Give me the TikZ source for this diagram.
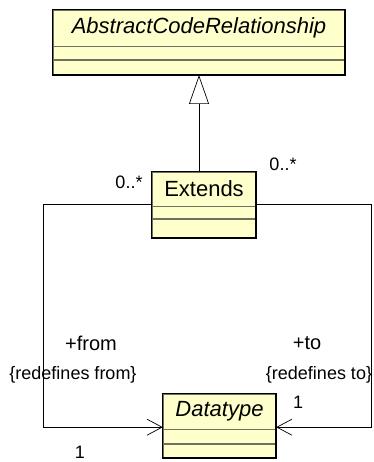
\documentclass[tikz,border=0pt]{standalone}
\usepackage{fontspec}
\setmainfont{Liberation Sans}
\usetikzlibrary{arrows.meta, positioning}
\definecolor{classfill}{RGB}{255,255,204}
\definecolor{partline}{RGB}{112,112,96}

\begin{document}
\begin{tikzpicture}[x=1pt, y=-1pt, font=\fontsize{18}{21}\selectfont,
  clsname/.style={draw=partline, fill=classfill, inner sep=0pt, font=\fontsize{22}{26}\selectfont},
  clspart/.style={draw=partline, fill=classfill, inner sep=0pt},
  clsframe/.style={draw=black, line width=0.9pt},
  clsedge/.style={draw=black, line width=1.6pt},
  assoc/.style={-{Straight Barb[length=15pt, width=16pt]}, line width=0.7pt},
  gen/.style={-{Triangle[open, length=29pt, width=20pt, fill=white]}, line width=0.7pt},
  lbl/.style={inner sep=0pt},
  role/.style={inner sep=0pt, font=\fontsize{20}{24}\selectfont}]
\useasboundingbox (0,0) rectangle (373,462);
% classes
\node[clsname, minimum width=292pt, minimum height=36pt] (acr) at (199,28) {\textit{AbstractCodeRelationship}};
\node[clspart, minimum width=292pt, minimum height=13pt, below=0pt of acr] (acrA) {};
\node[clspart, minimum width=292pt, minimum height=15pt, below=0pt of acrA] (acrB) {};
\draw[clsframe] (acr.north west) rectangle (acrB.south east);
\draw[clsedge] (acr.north east) |- (acrB.south west);

\node[clsname, minimum width=104pt, minimum height=34pt] (ext) at (204,189) {Extends};
\node[clspart, minimum width=104pt, minimum height=12pt, below=0pt of ext] (extA) {};
\node[clspart, minimum width=104pt, minimum height=19pt, below=0pt of extA] (extB) {};
\draw[clsframe] (ext.north west) rectangle (extB.south east);
\draw[clsedge] (ext.north east) |- (extB.south west);

\node[clsname, minimum width=113pt, minimum height=35pt] (dt) at (219.5,411.5) {\textit{Datatype}};
\node[clspart, minimum width=113pt, minimum height=14pt, below=0pt of dt] (dtA) {};
\node[clspart, minimum width=113pt, minimum height=14pt, below=0pt of dtA] (dtB) {};
\draw[clsframe] (dt.north west) rectangle (dtB.south east);
\draw[clsedge] (dt.north east) |- (dtB.south west);

% connectors
\draw[gen] (ext.north -| acrB.south) -- (acrB.south);
\draw[assoc] ([yshift=2pt]ext.south west) -- ++(-108,0) |- ([yshift=2pt]dt.south west);
\draw[assoc] ([yshift=2pt]ext.south east) -- ++(115,0) |- ([yshift=2pt]dt.south east);

% ends
\node[lbl] (fromMult) at (129,182) {0..*};
\node[lbl] (toMult) at (283,164) {0..*};
\node[role] (fromRole) at (91,343) {+from};
\node[lbl] (fromCons) at (73,375) {\{redefines from\}};
\node[role] (toRole) at (307,343) {+to};
\node[lbl] (toCons) at (319,375) {\{redefines to\}};
\node[lbl] (toOne) at (298,402) {1};
\node[lbl] (fromOne) at (80,452) {1};
\end{tikzpicture}
\end{document}
